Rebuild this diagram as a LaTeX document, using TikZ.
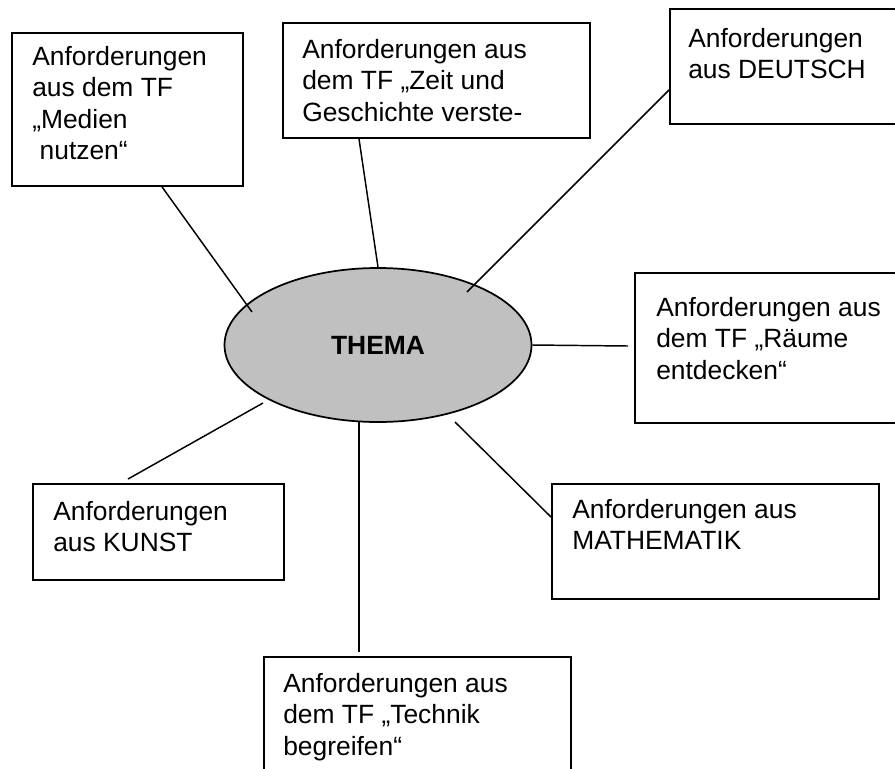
\documentclass[tikz,border=0pt]{standalone}
\usepackage{fontspec}
\setmainfont{Liberation Sans}
\usetikzlibrary{shapes.geometric,calc}
\begin{document}
\begin{tikzpicture}[x=0.75pt,y=-0.75pt,
  frame/.style={draw, line width=1.4pt, inner sep=0pt, anchor=north west},
  txt/.style={inner sep=0pt, anchor=north west, align=left,
    font=\fontsize{19.8pt}{23.6pt}\selectfont},
  conn/.style={line width=1.1pt}]
\useasboundingbox (0,0) rectangle (895,768);
\clip (0,0) rectangle (895,768);
% central ellipse
\node[ellipse, draw, line width=1.3pt, fill={rgb,255:red,192;green,192;blue,192},
  minimum width=230.25pt, minimum height=115.5pt, inner sep=0pt,
  font=\fontsize{19.8pt}{23pt}\selectfont\bfseries] (thema) at (378,345) {THEMA};
% boxes
\node[frame, minimum width=173.25pt, minimum height=114.75pt] (b1) at (11,32) {};
\node[frame, minimum width=230.25pt, minimum height=86.25pt] (b2) at (282,22) {};
\node[frame, minimum width=180pt, minimum height=86.25pt] (b3) at (669,8) {};
\node[frame, minimum width=206.25pt, minimum height=112.5pt] (b4) at (634,272) {};
\node[frame, minimum width=245.25pt, minimum height=86.25pt] (b5) at (551,483) {};
\node[frame, minimum width=188.25pt, minimum height=72pt] (b6) at (32,483) {};
\node[frame, minimum width=230.25pt, minimum height=97.5pt] (b7) at (263,656) {};
% texts
\node[txt] (t1) at (32,46) {Anforderungen\\aus dem TF\\„Medien\\\hspace*{0.28em}nutzen“};
\node[txt] (t2) at (302,39) {Anforderungen aus\\dem TF „Zeit und\\Geschichte verste-};
\node[txt] (t3) at (688,28) {Anforderungen\\aus DEUTSCH};
\node[txt] (t4) at (656,297) {Anforderungen aus\\dem TF „Räume\\entdecken“};
\node[txt] (t5) at (572,499) {Anforderungen aus\\MATHEMATIK};
\node[txt] (t6) at (53,501) {Anforderungen\\aus KUNST};
\node[txt] (t7) at (283,673) {Anforderungen aus\\dem TF „Technik\\begreifen“};
% connector end points
\coordinate (e1) at (252,312);
\coordinate (e3) at (467,292);
\coordinate (e4) at (628,346);
\coordinate (e5) at (455,422);
\coordinate (e6) at (263,403);
\coordinate (e6b) at (128,479);
\coordinate (e7) at (359,422);
\coordinate (e7b) at (359,652);
% connectors
\draw[conn] ($(b1.south west)+(151,0)$) -- (e1);
\draw[conn] ($(b2.south west)+(77,0)$) -- (thema.north);
\draw[conn] ($(b3.north west)+(0,82)$) -- (e3);
\draw[conn] (thema.east) -- (e4);
\draw[conn] (e5) -- ($(b5.north west)+(0,34)$);
\draw[conn] (e6) -- (e6b);
\draw[conn] (e7) -- (e7b);
\end{tikzpicture}
\end{document}
